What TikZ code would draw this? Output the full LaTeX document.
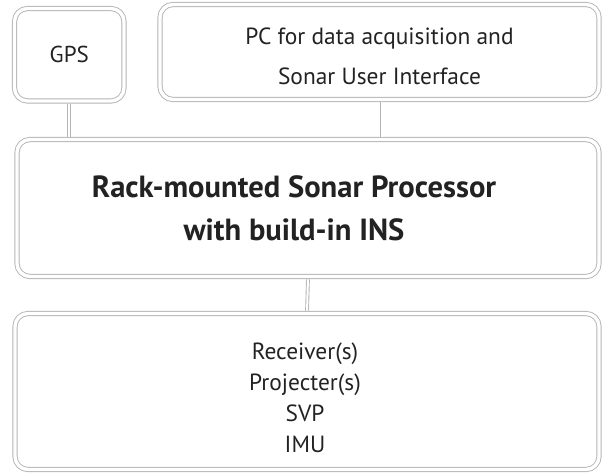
\documentclass[tikz,border=0pt]{standalone}
\usepackage{fontspec}
\setmainfont{PT Sans}
\usetikzlibrary{positioning}
\definecolor{linegray}{HTML}{B4B4B4}
\definecolor{inkgray}{HTML}{222222}

\tikzset{
  unit/.style={draw=linegray, double=white, double distance=3.4pt, line width=0.9pt,
               rounded corners=13pt, align=center, inner sep=0pt, text=inkgray},
  words/.style={align=center, text=inkgray, inner sep=0pt,
                font=\fontsize{23.4}{31}\selectfont},
  title/.style={words, font=\fontsize{30.6}{43}\selectfont\bfseries},
  link/.style={draw=linegray, double=white, double distance=2pt, line width=0.9pt,
               shorten <=2.4pt, shorten >=2.4pt},
}

\begin{document}
\begin{tikzpicture}[x=1pt, y=-1pt]
    \useasboundingbox (0,0) rectangle (608,472);
    % top row
    \node[unit, minimum width=109.5pt, minimum height=92.5pt,
          font=\fontsize{23}{28}\selectfont] (gps) at (69.25,54.75) {GPS};
    \node[unit, minimum width=439pt, minimum height=95pt] (pc) at (379.5,52) {};
    \node[words, font=\fontsize{23.4}{40}\selectfont] (pctext)
          at ([yshift=-4pt]pc.center) {PC for data acquisition and\\Sonar User Interface};
    % processor
    \node[unit, minimum width=582pt, minimum height=137pt] (proc) at (308,208) {};
    \node[title] (proctitle) at ([xshift=-14pt, yshift=0pt]proc.center)
          {Rack-mounted Sonar Processor\\with build-in INS};
    % wet end
    \node[unit, minimum width=584pt, minimum height=156pt] (sensors) at (307,391.5) {};
    \node[words] (sensortext) at ([xshift=-2pt, yshift=-6pt]sensors.center)
          {Receiver(s)\\Projecter(s)\\SVP\\IMU};

    \draw[link] (gps.south) -- (gps.south |- proc.north);
    \draw[link] ([xshift=2pt]pc.south) -- ([xshift=2pt]pc.south |- proc.north);
    \draw[link] (proc.south) -- (sensors.north);
\end{tikzpicture}
\end{document}
